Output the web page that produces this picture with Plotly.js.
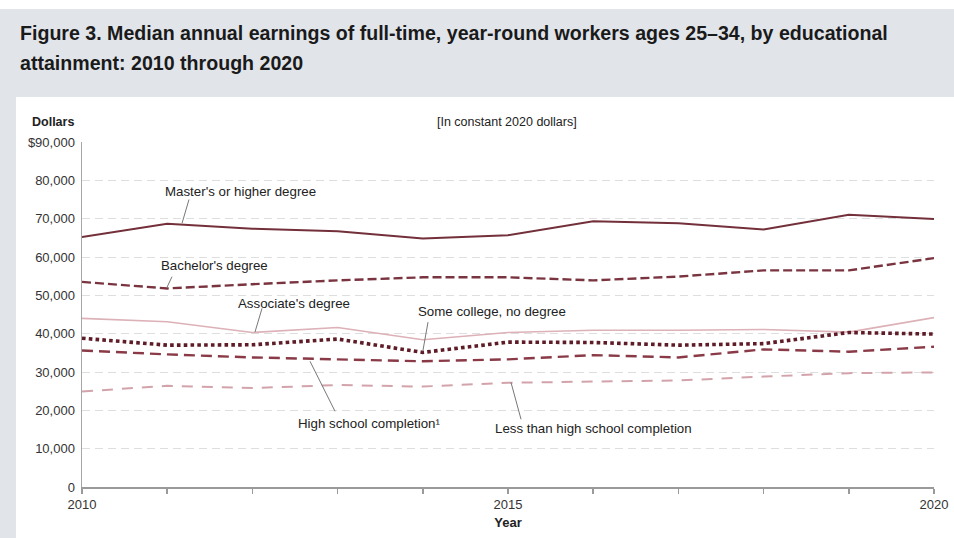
<!DOCTYPE html>
<html>
<head>
<meta charset="utf-8">
<script src="https://cdn.plot.ly/plotly-3.0.1.min.js"></script>
<style>
html,body{margin:0;padding:0;background:#fff;}
#chart{width:954px;height:538px;}
</style>
</head>
<body>
<div id="chart"></div>
<script>
// ---- data ----
var years = [2010, 2011, 2012, 2013, 2014, 2015, 2016, 2017, 2018, 2019, 2020];
var mastersOrHigher = [65200, 68700, 67400, 66700, 64800, 65700, 69300, 68800, 67200, 71000, 69900];
var bachelors = [53500, 51800, 52900, 53900, 54700, 54700, 53900, 54900, 56500, 56500, 59700];
var associates = [44000, 43100, 40300, 41600, 38400, 40300, 40900, 40900, 41100, 40400, 44200];
var someCollege = [38800, 37000, 37100, 38600, 35100, 37800, 37700, 37000, 37400, 40300, 39900];
var highSchool = [35600, 34600, 33800, 33300, 32800, 33300, 34400, 33800, 35900, 35300, 36600];
var lessThanHighSchool = [24900, 26400, 25800, 26600, 26200, 27200, 27500, 27800, 28800, 29700, 29900];

var seriesNames = ["Master's or higher degree", "Bachelor's degree", "Associate's degree",
                   "Some college, no degree", "High school completion¹", "Less than high school completion"];
var yTickVals = [0, 10000, 20000, 30000, 40000, 50000, 60000, 70000, 80000, 90000];
var yTickText = ["0", "10,000", "20,000", "30,000", "40,000", "50,000", "60,000", "70,000", "80,000", "$90,000"];
var xTickText = ["2010", "", "", "", "", "2015", "", "", "", "", "2020"];

var FONT = "Liberation Sans, Arial, Helvetica, sans-serif";

function tr(y, name, color, width, dash) {
  return {x: years, y: y, name: name, type: 'scatter', mode: 'lines',
          line: {color: color, width: width, dash: dash}, hoverinfo: 'skip'};
}

var traces = [
  tr(lessThanHighSchool, seriesNames[5], '#d3a3ab', 2, '11px,9px'),
  tr(associates, seriesNames[2], '#dcb1b7', 1.6, 'solid'),
  tr(highSchool, seriesNames[4], '#8a3a47', 2.4, '11px,6px'),
  tr(bachelors, seriesNames[1], '#7a3440', 2.4, '9px,4px'),
  tr(mastersOrHigher, seriesNames[0], '#73303a', 2, 'solid'),
  tr(someCollege, seriesNames[3], '#5e1c27', 3.6, '3.6px,3.2px')
];

// label positions (layout only)
var labelPos = [
  {x: 2011.855, y: 77100, lx0: 2011.256, ly0: 75000, lx1: 2011.174, ly1: 68800},
  {x: 2011.555, y: 57770, lx0: 2011.056, ly0: 54850, lx1: 2010.998, ly1: 52100},
  {x: 2012.488, y: 47930, lx0: 2012.113, ly0: 46600, lx1: 2012.03, ly1: 40400},
  {x: 2014.812, y: 45760, lx0: 2014.061, ly0: 43000, lx1: 2014.0, ly1: 35400},
  {x: 2013.374, y: 16620, lx0: 2012.97, ly0: 19750, lx1: 2012.676, ly1: 32800},
  {x: 2016.0, y: 15240, lx0: 2015.153, ly0: 17660, lx1: 2015.035, ly1: 27300}
];

var annotations = [];
var shapes = [];
// header band and left strip (paper coords: px -> (px-82)/852, py -> (487-py)/345)
function px(p){ return (p - 82) / 852; }
function py(p){ return (487 - p) / 345; }
shapes.push({type: 'rect', xref: 'paper', yref: 'paper', x0: px(0), x1: px(954), y0: py(97), y1: py(9),
             fillcolor: '#e1e5ea', line: {width: 0}, layer: 'below'});
shapes.push({type: 'rect', xref: 'paper', yref: 'paper', x0: px(0), x1: px(16), y0: py(538), y1: py(97),
             fillcolor: '#e1e5ea', line: {width: 0}, layer: 'below'});

seriesNames.forEach(function(n, i) {
  var p = labelPos[i];
  annotations.push({x: p.x, y: p.y, xref: 'x', yref: 'y', text: n, showarrow: false,
                    font: {family: FONT, size: 13.3, color: '#222'}, xanchor: 'center', yanchor: 'middle'});
  shapes.push({type: 'line', xref: 'x', yref: 'y', x0: p.lx0, y0: p.ly0, x1: p.lx1, y1: p.ly1,
               line: {color: '#777', width: 1}});
});

annotations.push({xref: 'paper', yref: 'paper', x: px(18), y: py(63), xanchor: 'left', yanchor: 'middle',
                  text: '<b>attainment: 2010 through 2020</b>', showarrow: false,
                  font: {family: FONT, size: 19.6, color: '#1a1a1a'}});
annotations.push({xref: 'paper', yref: 'paper', x: px(30), y: py(121.5), xanchor: 'left', yanchor: 'middle',
                  text: '<b>Dollars</b>', showarrow: false, font: {family: FONT, size: 12.5, color: '#222'}});
annotations.push({xref: 'paper', yref: 'paper', x: px(507), y: py(121.5), xanchor: 'center', yanchor: 'middle',
                  text: '[In constant 2020 dollars]', showarrow: false, font: {family: FONT, size: 12.5, color: '#222'}});

var layout = {
  width: 954, height: 538,
  margin: {l: 82, r: 20, t: 142, b: 51, pad: 0},
  paper_bgcolor: '#ffffff',
  plot_bgcolor: 'rgba(0,0,0,0)',
  showlegend: false,
  title: {text: '<b>Figure 3. Median annual earnings of full-time, year-round workers ages 25–34, by educational</b>',
          xref: 'container', yref: 'container', x: 20 / 954, xanchor: 'left', y: 1 - 33 / 538, yanchor: 'middle',
          font: {family: FONT, size: 19.6, color: '#1a1a1a'}},
  xaxis: {range: [2010, 2020], tickvals: years, ticktext: xTickText, ticks: 'outside', ticklen: 5,
          tickcolor: '#9a9a9a', tickwidth: 1.5, showline: true, linecolor: '#9a9a9a', linewidth: 1.5,
          showgrid: false, zeroline: false, tickfont: {family: FONT, size: 13, color: '#333'},
          title: {text: '<b>Year</b>', font: {family: FONT, size: 13, color: '#222'}, standoff: 7}},
  yaxis: {range: [0, 90000], tickvals: yTickVals, ticktext: yTickText, ticks: 'outside', ticklen: 3,
          tickcolor: 'rgba(0,0,0,0)', showline: true, linecolor: '#a6a6a6', linewidth: 1.5,
          showgrid: true, gridcolor: '#dedede', gridwidth: 1, griddash: '8px,5px', zeroline: false,
          tickfont: {family: FONT, size: 13, color: '#333'}},
  annotations: annotations,
  shapes: shapes
};

Plotly.newPlot('chart', traces, layout, {displayModeBar: false, staticPlot: true});
</script>
</body>
</html>
